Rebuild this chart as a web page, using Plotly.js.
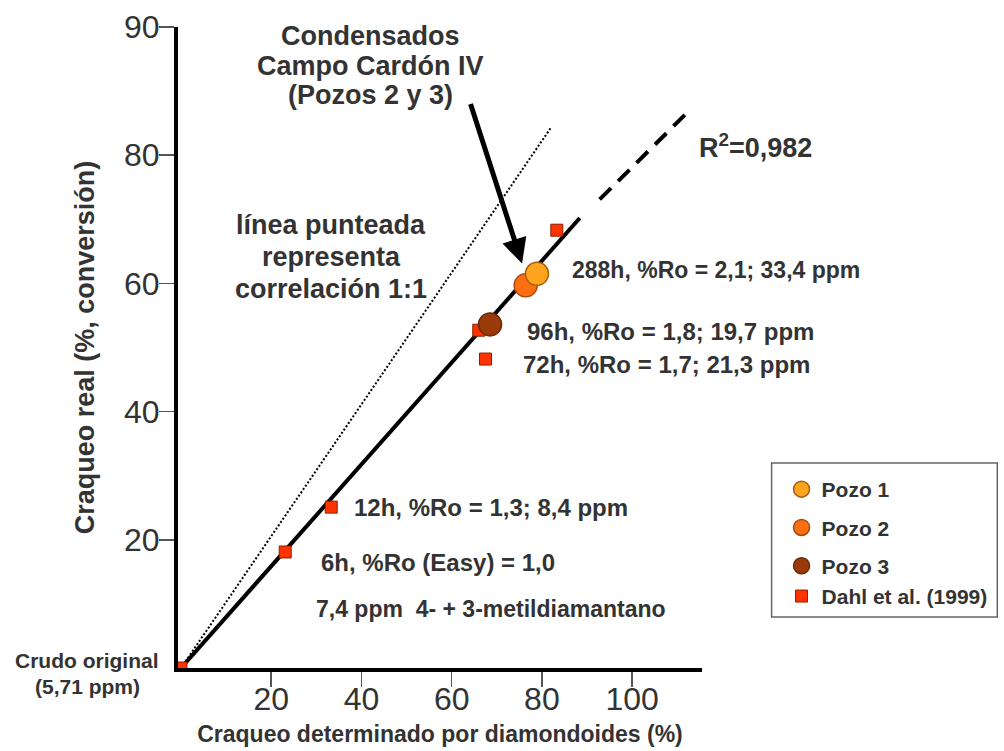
<!DOCTYPE html>
<html>
<head>
<meta charset="utf-8">
<script src="https://cdn.plot.ly/plotly-3.0.1.min.js"></script>
<style>html,body{margin:0;padding:0;background:#fff;}#chart{width:1004px;height:751px;}</style>
</head>
<body>
<div id="chart"></div>
<script>
// ---- data ----
const dahlX = [0, 23.1, 33.3, 66.0, 67.5, 83.3];
const dahlY = [0, 18.1, 25.1, 52.7, 48.2, 68.3];
const pozo1X = [78.9];
const pozo1Y = [61.5];
const pozo2X = [76.4];
const pozo2Y = [59.7];
const pozo3X = [68.5];
const pozo3Y = [53.6];
const fitSolidX = [0, 88.4];
const fitSolidY = [0, 70.2];
const fitDashX = [92.8, 111.7];
const fitDashY = [73.1, 86.3];
const oneToOneX = [0, 82.0];
const oneToOneY = [0, 84.3];
const xTickVals = [20, 40, 60, 80, 100];
const xTickText = ['20', '40', '60', '80', '100'];
const yTickVals = [20, 40, 60, 80, 100];
const yTickText = ['20', '40', '60', '80', '90'];
const seriesNames = ['Pozo 1', 'Pozo 2', 'Pozo 3', 'Dahl et al. (1999)'];

const FONT = 'Liberation Sans, Arial, Helvetica, sans-serif';
const TXT = '#333333';

// plot area in pixels: left 178, top 27, width 527, height 641
const L = 178, T = 27, W = 527, H = 641;
const px = v => (v - L) / W;
const py = v => (T + H - v) / H;

const traces = [
  {x: oneToOneX, y: oneToOneY, mode: 'lines', showlegend: false, hoverinfo: 'skip',
   line: {color: '#000', width: 2, dash: '2px,2px'}},
  {x: fitSolidX, y: fitSolidY, mode: 'lines', showlegend: false, hoverinfo: 'skip',
   line: {color: '#000', width: 4}},
  {x: fitDashX, y: fitDashY, mode: 'lines', showlegend: false, hoverinfo: 'skip',
   line: {color: '#000', width: 4, dash: '16px,10px'}},
  {x: dahlX, y: dahlY, mode: 'markers', name: seriesNames[3], legendgroup: 'c', legendrank: 4,
   marker: {symbol: 'square', size: 12, color: '#ff3300', line: {color: '#8a1f00', width: 1}}},
  {x: pozo3X, y: pozo3Y, mode: 'markers', name: seriesNames[2], legendgroup: 'c', legendrank: 3,
   marker: {symbol: 'circle', size: 23, color: '#9a3a08', line: {color: '#6b2a05', width: 1.5}}},
  {x: pozo2X, y: pozo2Y, mode: 'markers', name: seriesNames[1], legendgroup: 'b', legendrank: 2,
   marker: {symbol: 'circle', size: 23, color: '#ff6f12', line: {color: '#a64a0a', width: 1.5}}},
  {x: pozo1X, y: pozo1Y, mode: 'markers', name: seriesNames[0], legendgroup: 'a', legendrank: 1,
   marker: {symbol: 'circle', size: 23, color: '#ffa41f', line: {color: '#a65f0a', width: 1.5}}}
];

function label(text, x, y, size, anchor) {
  return {text: text, xref: 'paper', yref: 'paper', x: px(x), y: py(y),
          xanchor: anchor || 'left', yanchor: 'middle', showarrow: false,
          font: {family: FONT, size: size, color: TXT, weight: 'bold'}};
}

const annotations = [
  label('Condensados', 372, 35.5, 27, 'center'),
  label('Campo Cardón IV', 372, 66.5, 27, 'center'),
  label('(Pozos 2 y 3)', 372, 94.5, 27, 'center'),
  label('línea punteada', 332, 224.5, 27, 'center'),
  label('representa', 332, 256.5, 27, 'center'),
  label('correlación 1:1', 332, 288.5, 27, 'center'),
  label('R<sup>2</sup>=0,982', 700, 145.5, 27, 'left'),
  label('288h, %Ro = 2,1; 33,4 ppm', 572, 270, 23, 'left'),
  label('96h, %Ro = 1,8; 19,7 ppm', 527, 331, 24, 'left'),
  label('72h, %Ro = 1,7; 21,3 ppm', 523, 364, 24, 'left'),
  label('12h, %Ro = 1,3; 8,4 ppm', 353, 507, 24, 'left'),
  label('6h, %Ro (Easy) = 1,0', 320, 562, 24, 'left'),
  label('7,4 ppm  4- + 3-metildiamantano', 315, 609, 23, 'left'),
  label('Crudo original', 86, 660, 21, 'center'),
  label('(5,71 ppm)', 87, 686, 21, 'center'),
  {x: 75.6, y: 63.1, xref: 'x', yref: 'y', ax: -52, ay: -161, text: '',
   showarrow: true, arrowhead: 2, arrowsize: 1, arrowwidth: 5, arrowcolor: '#000', standoff: 0}
];

const layout = {
  width: 1004, height: 751,
  margin: {l: L, r: 1004 - L - W, t: T, b: 751 - T - H},
  paper_bgcolor: '#fff', plot_bgcolor: '#fff',
  font: {family: FONT, color: TXT},
  showlegend: true,
  legend: {x: px(785), y: py(469), xanchor: 'left', yanchor: 'top',
           bgcolor: 'rgba(0,0,0,0)', borderwidth: 0, tracegroupgap: 8,
           font: {family: FONT, size: 21, color: TXT, weight: 'bold'}},
  xaxis: {range: [-0.66, 115.48], showgrid: false, zeroline: false,
          showline: true, linecolor: '#000', linewidth: 4,
          ticks: 'outside', ticklen: 15, tickwidth: 1.5, tickcolor: '#555',
          tickvals: xTickVals, ticktext: xTickText, ticklabelstandoff: -15,
          tickfont: {family: FONT, size: 32, color: TXT},
          title: {text: 'Craqueo determinado por diamondoides (%)', standoff: 10,
                  font: {family: FONT, size: 23, color: TXT, weight: 'bold'}}},
  yaxis: {range: [0, 100], showgrid: false, zeroline: false,
          showline: true, linecolor: '#000', linewidth: 4,
          ticks: 'outside', ticklen: 15, tickwidth: 1.5, tickcolor: '#555',
          tickvals: yTickVals, ticktext: yTickText, ticklabelstandoff: -7,
          tickfont: {family: FONT, size: 32, color: TXT},
          title: {text: 'Craqueo real (%, conversión)', standoff: 23,
                  font: {family: FONT, size: 27, color: TXT, weight: 'bold'}}},
  shapes: [
    {type: 'rect', xref: 'paper', yref: 'paper', x0: px(775), x1: px(1002), y0: py(617), y1: py(463),
     line: {color: '#666', width: 1.5}, fillcolor: 'rgba(0,0,0,0)', layer: 'below'}
  ],
  annotations: annotations
};

Plotly.newPlot('chart', traces, layout, {displayModeBar: false, staticPlot: true});
</script>
</body>
</html>
